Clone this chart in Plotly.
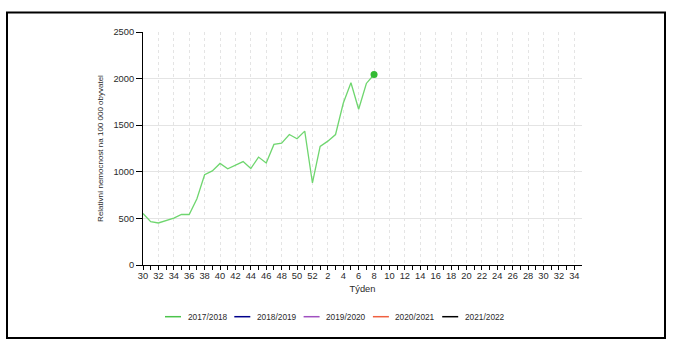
import plotly.graph_objects as go

# ---- data ----
weeks = list(range(30, 53)) + list(range(1, 35))          # season week axis (30 .. 52, 1 .. 34)
tick_weeks = weeks[::2]                                     # labelled ticks
season_names = ["2017/2018", "2018/2019", "2019/2020", "2020/2021", "2021/2022"]
season_colors = ["#6fd66f", "#00008b", "#a050c0", "#f06040", "#000000"]
legend_colors = ["#4cc44c", "#00008b", "#a050c0", "#f06040", "#000000"]

values_2017_2018 = [553, 465, 451, 475, 504, 542, 542, 711, 968, 1010, 1090, 1033,
                    1070, 1110, 1035, 1158, 1094, 1294, 1308, 1400, 1354, 1436, 880,
                    1272, 1329, 1400, 1735, 1955, 1671, 1948, 2044]
values_2018_2019 = []
values_2019_2020 = []
values_2020_2021 = []
values_2021_2022 = []
series_values = [values_2017_2018, values_2018_2019, values_2019_2020,
                 values_2020_2021, values_2021_2022]

y_ticks = [0, 500, 1000, 1500, 2000, 2500]

FONT = "Liberation Sans, Arial, sans-serif"
TXT = "#2a2a2a"

fig = go.Figure()
for name, col, vals in zip(season_names, season_colors, series_values):
    xs = list(range(len(vals)))
    fig.add_trace(go.Scatter(x=xs, y=vals, mode="lines", name=name,
                             line=dict(color=col, width=1.3), showlegend=False,
                             hoverinfo="skip"))
    if vals:
        fig.add_trace(go.Scatter(x=[xs[-1]], y=[vals[-1]], mode="markers",
                                 marker=dict(color="#33bb33", size=7),
                                 showlegend=False, hoverinfo="skip"))

# plot-area geometry (pixels) used to place frame + custom legend
W, H = 673, 345
L, R, T, B = 143, 91, 32, 80
pw, ph = W - L - R, H - T - B
def px(x): return (x - L) / pw
def py(y): return (H - B - y) / ph

shapes = [dict(type="rect", xref="paper", yref="paper",
               x0=px(7), x1=px(665), y0=py(338), y1=py(12.5),
               line=dict(color="black", width=2), fillcolor="rgba(0,0,0,0)", layer="below")]
annotations = []
leg_x0, leg_step, leg_y = 165, 69.3, 316.7
for i, (name, col) in enumerate(zip(season_names, legend_colors)):
    x0 = leg_x0 + i * leg_step
    shapes.append(dict(type="line", xref="paper", yref="paper",
                       x0=px(x0), x1=px(x0 + 16), y0=py(leg_y), y1=py(leg_y),
                       line=dict(color=col, width=1.5)))
    annotations.append(dict(xref="paper", yref="paper", x=px(x0 + 20.5), y=py(leg_y),
                            text=name, showarrow=False, xanchor="left", yanchor="middle",
                            font=dict(family=FONT, size=8.3, color=TXT)))

fig.update_layout(
    width=W, height=H,
    margin=dict(l=L, r=R, t=T, b=B, pad=0),
    paper_bgcolor="white", plot_bgcolor="white",
    font=dict(family=FONT, size=9, color=TXT),
    shapes=shapes, annotations=annotations,
    showlegend=False,
)
fig.update_xaxes(
    range=[0, len(weeks)], tickmode="array",
    tickvals=list(range(0, len(weeks), 2)), ticktext=[str(w) for w in tick_weeks],
    ticks="outside", ticklen=4, tickcolor="black", tickwidth=1,
    minor=dict(tickmode="array", tickvals=list(range(len(weeks))),
               ticks="outside", ticklen=4, tickcolor="black", showgrid=False),
    showline=True, linecolor="black", linewidth=1,
    showgrid=True, gridcolor="#e4e4e4", griddash="dot", gridwidth=1,
    zeroline=False, tickfont=dict(size=9.3, color=TXT), ticklabelstandoff=-2,
    title=dict(text="Týden", font=dict(size=9.3, color=TXT), standoff=5),
)
fig.update_yaxes(
    range=[0, 2500], tickmode="array", tickvals=y_ticks,
    ticks="outside", ticklen=6, tickcolor="black",
    showline=True, linecolor="black", linewidth=1,
    showgrid=True, gridcolor="#e4e4e4", gridwidth=1, zeroline=False,
    tickfont=dict(size=9.3, color=TXT),
    title=dict(text="Relativní nemocnost na 100 000 obyvatel",
               font=dict(size=8, color=TXT), standoff=8),
)

fig.write_html("out.html")
